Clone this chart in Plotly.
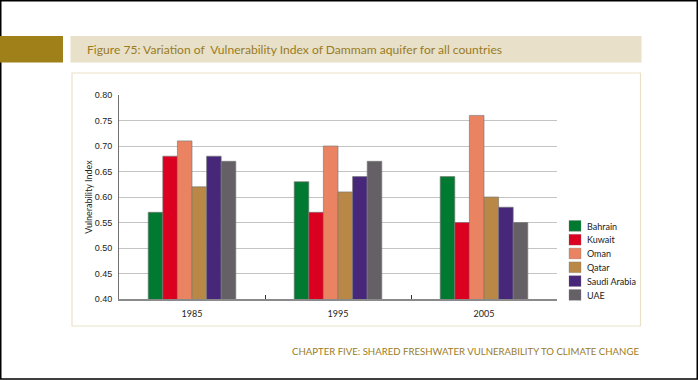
import plotly.graph_objects as go

years = ["1985", "1995", "2005"]
countries = ["Bahrain", "Kuwait", "Oman", "Qatar", "Saudi Arabia", "UAE"]
bahrain = [0.57, 0.63, 0.64]
kuwait = [0.68, 0.57, 0.55]
oman = [0.71, 0.70, 0.76]
qatar = [0.62, 0.61, 0.60]
saudi = [0.68, 0.64, 0.58]
uae = [0.67, 0.67, 0.55]
series = [bahrain, kuwait, oman, qatar, saudi, uae]
colors = ["#007A30", "#DC0020", "#E98362", "#B98746", "#47277A", "#655F66"]

W, H = 698, 380
L, R, T, B = 119, 557, 95, 299


def px(x):
    return (x - L) / (R - L)


def py(y):
    return (B - y) / (B - T)


fig = go.Figure()
for name, vals, c in zip(countries, series, colors):
    fig.add_trace(go.Bar(
        x=years, y=vals, name=name, showlegend=False,
        marker=dict(color=c, line=dict(color="rgba(120,120,120,0.8)", width=0.8)),
    ))

P = dict(xref="paper", yref="paper", layer="below")
shapes = [
    dict(type="rect", x0=px(0.75), x1=px(697.25), y0=py(0.75), y1=py(379),
         line=dict(color="black", width=1.5), **P),
    dict(type="rect", x0=px(0), x1=px(63), y0=py(36), y1=py(62.5),
         fillcolor="#A08019", line=dict(width=0), **P),
    dict(type="rect", x0=px(70.5), x1=px(641.5), y0=py(36), y1=py(62.5),
         fillcolor="#E8E0C8", line=dict(width=0), **P),
    dict(type="rect", x0=px(72), x1=px(640.5), y0=py(73), y1=py(326),
         line=dict(color="#EAE2C8", width=1.2), **P),
]

annotations = [
    dict(text="Figure 75: Variation of  Vulnerability Index of Dammam aquifer for all countries",
         x=px(85), y=py(49.5), xref="paper", yref="paper", xanchor="left", yanchor="middle",
         showarrow=False, font=dict(family="Lato", size=12.1, color="#9A7B1F")),
    dict(text="CHAPTER FIVE: SHARED FRESHWATER VULNERABILITY TO CLIMATE CHANGE",
         x=px(641), y=py(351), xref="paper", yref="paper", xanchor="right", yanchor="middle",
         showarrow=False, font=dict(family="Lato", size=9.6, color="#9A7B1F")),
]

# manual legend (compact spacing as in the reference)
leg_x, leg_y0, pitch = 569, 220.5, 13.8
for i, (name, c) in enumerate(zip(countries, colors)):
    top = leg_y0 + i * pitch
    shapes.append(dict(type="rect", x0=px(leg_x), x1=px(leg_x + 12), y0=py(top),
                       y1=py(top + 10.8), fillcolor=c,
                       line=dict(color="rgba(120,120,120,0.6)", width=0.5),
                       xref="paper", yref="paper"))
    annotations.append(dict(text=name, x=px(leg_x + 15.5), y=py(top + 5.6),
                            xref="paper", yref="paper", xanchor="left", yanchor="middle",
                            showarrow=False,
                            font=dict(family="Lato", size=9, color="#1a1a1a")))

fig.update_layout(
    width=W, height=H,
    margin=dict(l=L, r=W - R, t=T, b=H - B, pad=0, autoexpand=False),
    paper_bgcolor="white", plot_bgcolor="white",
    barmode="group", bargap=0.4, bargroupgap=0,
    shapes=shapes, annotations=annotations,
    font=dict(family="Lato", color="#222"),
    showlegend=False,
    xaxis=dict(type="category", showgrid=False, showline=True, linecolor="#8a8a8a",
               linewidth=2, ticks="inside", tickson="boundaries", ticklen=4,
               tickcolor="#333", tickwidth=1, ticklabelstandoff=5,
               tickfont=dict(size=9, color="#222"), fixedrange=True),
    yaxis=dict(range=[0.40, 0.80], dtick=0.05, tickformat=".2f", showgrid=True,
               gridcolor="#C4C4C4", gridwidth=1, showline=True, linecolor="#707070",
               linewidth=1, ticks="", ticklabelstandoff=4,
               tickfont=dict(family="Liberation Sans", size=9, color="#222"),
               title=dict(text="Vulnerability Index", font=dict(size=9, color="#222"),
                          standoff=0),
               zeroline=False, fixedrange=True),
)

fig.write_html("out.html", config={"displayModeBar": False},
               post_script="document.body.style.margin='0px';document.body.style.overflow='hidden';")
